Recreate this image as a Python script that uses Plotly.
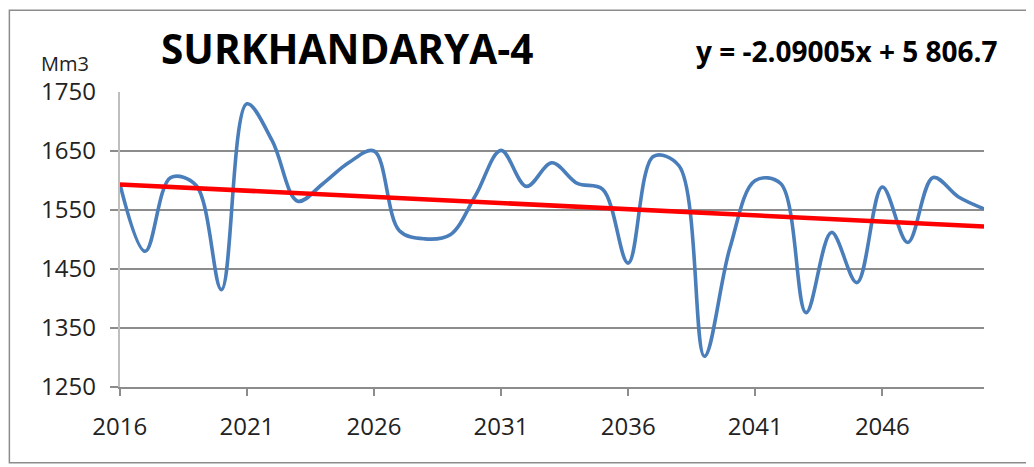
import plotly.graph_objects as go

# ---- data ----
years = list(range(2016, 2051))
volume_mm3 = [1595, 1480, 1605, 1592, 1415, 1730, 1667, 1565, 1595, 1630,
              1650, 1515, 1501, 1508, 1575, 1651, 1590, 1630, 1595, 1585,
              1460, 1641, 1625, 1302, 1485, 1600, 1595, 1376, 1512, 1427,
              1589, 1495, 1605, 1572, 1552]
trend_slope = -2.09005
trend_intercept = 5806.7
x_tick_years = [2016, 2021, 2026, 2031, 2036, 2041, 2046]
y_grid_ticks = [1250, 1350, 1450, 1550, 1650]
y_label_ticks = [1250, 1350, 1450, 1550, 1650, 1750]
title_text = "SURKHANDARYA-4"
equation_text = "y = -2.09005x + 5 806.7"
unit_text = "Mm3"

trend = [trend_slope * yr + trend_intercept for yr in years]

# ---- layout geometry (pixels, page coords minus 8px body margin) ----
OFF = 8
W, H = 1034 - OFF, 467 - OFF
PLOT_L = 119.3 - OFF          # left edge of the plotting area (fig px)
LABEL_AXIS_X = 95.5 - OFF     # where the label-carrying axis sits (fig px)
ML = LABEL_AXIS_X             # paper starts here
R = W - (984.3 - OFF)
T = 91.5 - OFF
B = H - (387.3 - OFF)
pw, ph = W - ML - R, H - T - B
x_domain_start = (PLOT_L - ML) / pw

def px_x(x):
    return (x - OFF - ML) / pw

def px_y(y):
    return (H - B - (y - OFF)) / ph

fig = go.Figure()
fig.add_trace(go.Scatter(x=years, y=volume_mm3, mode="lines",
                         line=dict(color="#4A7EBB", width=3.6, shape="spline", smoothing=1.0),
                         showlegend=False, hoverinfo="x+y"))
fig.add_trace(go.Scatter(x=years, y=trend, mode="lines",
                         line=dict(color="#FF0000", width=4.6),
                         showlegend=False, hoverinfo="x+y"))

tick_font = dict(family="Open Sans", size=24, color="#222222")

fig.update_layout(
    width=W, height=H,
    margin=dict(l=ML, r=R, t=T, b=B, pad=0),
    paper_bgcolor="white", plot_bgcolor="white",
    xaxis=dict(domain=[x_domain_start, 1], range=[2016, 2050], tickvals=x_tick_years,
               ticktext=[str(v) for v in x_tick_years],
               showgrid=False, zeroline=False, showline=True, linecolor="#8C8C8C", linewidth=1.5,
               ticks="outside", ticklen=7, tickcolor="#8C8C8C", tickwidth=1.5,
               tickfont=tick_font, ticklabelstandoff=10),
    yaxis=dict(range=[1250, 1750], tickvals=y_grid_ticks, showticklabels=False,
               showgrid=True, gridcolor="#8C8C8C", gridwidth=1.5, zeroline=False,
               showline=True, linecolor="#BEBEBE", linewidth=2,
               ticks="outside", ticklen=8, tickcolor="#8C8C8C", tickwidth=1.5),
    yaxis2=dict(range=[1250, 1750], overlaying="y", anchor="free", position=0, side="left",
                tickvals=y_label_ticks, ticktext=[str(v) for v in y_label_ticks],
                showgrid=False, zeroline=False, showline=False, ticks="",
                tickfont=tick_font),
    title=dict(text=title_text, x=(161 - OFF) / W, xanchor="left", y=1 - (50 - OFF) / H,
               yanchor="middle",
               font=dict(family="Open Sans", size=40.5, color="black", weight="bold")),
    annotations=[
        dict(text=equation_text, xref="paper", yref="paper", x=px_x(1000), y=px_y(50),
             xanchor="right", yanchor="middle", showarrow=False,
             font=dict(family="Open Sans", size=28, color="black", weight="bold")),
        dict(text=unit_text, xref="paper", yref="paper", x=px_x(38), y=px_y(63),
             xanchor="left", yanchor="middle", showarrow=False,
             font=dict(family="Open Sans", size=20, color="#222222")),
    ],
    shapes=[dict(type="rect", xref="paper", yref="paper", x0=px_x(OFF + 0.8), x1=px_x(1028.3),
                 y0=px_y(463.3), y1=px_y(OFF + 1.5), line=dict(color="#8C8C8C", width=1.5),
                 fillcolor="rgba(0,0,0,0)", layer="below")],
)
# invisible point so the overlay axis carrying the tick labels renders
fig.add_trace(go.Scatter(x=[years[0]], y=[y_label_ticks[-1]], yaxis="y2", mode="markers",
                         marker=dict(opacity=0), showlegend=False, hoverinfo="skip"))

fig.write_html("out.html")
